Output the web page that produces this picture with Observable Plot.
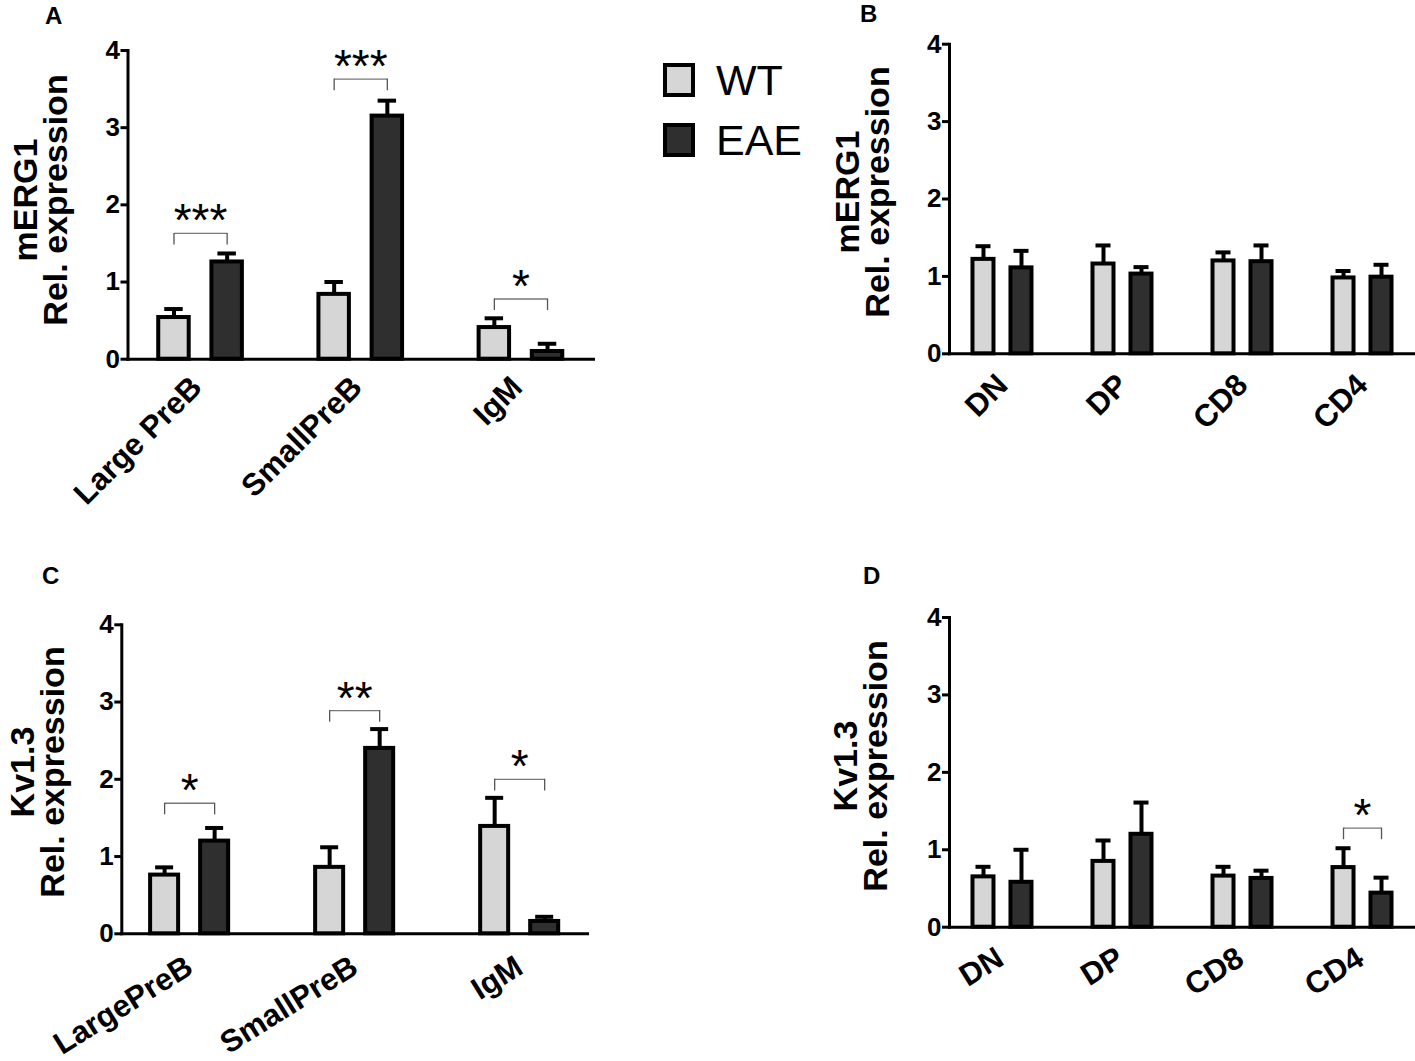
<!DOCTYPE html>
<html><head><meta charset="utf-8">
<script src="https://cdn.jsdelivr.net/npm/d3@7"></script>
<script src="https://cdn.jsdelivr.net/npm/@observablehq/plot@0.6"></script>
<style>
html,body{margin:0;padding:0;background:#fff;}
#page{position:relative;width:1415px;height:1061px;overflow:hidden;font-family:"Liberation Sans",Arial,sans-serif;color:#000;}
.panel{position:absolute;}
.letter{position:absolute;font-weight:bold;font-size:24px;line-height:24px;}
.ytitle{position:absolute;width:340px;font-weight:bold;font-size:34px;line-height:30px;text-align:center;transform:translate(-50%,-50%) rotate(-90deg);white-space:pre;}
.lg-box{position:absolute;width:32px;height:34px;border:4px solid #000;box-sizing:border-box;}
.lg-text{position:absolute;font-size:43px;line-height:43px;}
</style></head>
<body><div id="page"></div>
<script>
// ---------- data ----------
const groups = ["WT", "EAE"];
const yTicks = [0, 1, 2, 3, 4];

const catsA = ["Large PreB", "SmallPreB", "IgM"];
const wtA = [0.54, 0.84, 0.41];
const wtErrA = [0.11, 0.16, 0.12];
const eaeA = [1.26, 3.15, 0.10];
const eaeErrA = [0.11, 0.20, 0.10];
const sigCatsA = ["Large PreB", "SmallPreB", "IgM"];
const sigHeightsA = [1.63, 3.63, 0.78];
const sigLabelsA = ["***", "***", "*"];

const catsB = ["DN", "DP", "CD8", "CD4"];
const wtB = [1.22, 1.16, 1.20, 0.98];
const wtErrB = [0.17, 0.24, 0.11, 0.09];
const eaeB = [1.11, 1.03, 1.19, 0.99];
const eaeErrB = [0.22, 0.09, 0.21, 0.16];

const catsC = ["LargePreB", "SmallPreB", "IgM"];
const wtC = [0.76, 0.86, 1.39];
const wtErrC = [0.10, 0.26, 0.37];
const eaeC = [1.20, 2.40, 0.16];
const eaeErrC = [0.17, 0.25, 0.06];
const sigCatsC = ["LargePreB", "SmallPreB", "IgM"];
const sigHeightsC = [1.69, 2.89, 2.00];
const sigLabelsC = ["*", "**", "*"];

const catsD = ["DN", "DP", "CD8", "CD4"];
const wtD = [0.65, 0.85, 0.66, 0.77];
const wtErrD = [0.13, 0.27, 0.12, 0.25];
const eaeD = [0.58, 1.20, 0.63, 0.44];
const eaeErrD = [0.42, 0.41, 0.10, 0.20];
const sigCatsD = ["CD4"];
const sigHeightsD = [1.28];
const sigLabelsD = ["*"];

// ---------- drawing ----------
const FONT = "'Liberation Sans', Arial, sans-serif";
const page = document.getElementById("page");
const DROP = 0.15;

function panel(cfg, L) {
  const {cats, wt, wtErr, eae, eaeErr, sigCats = [], sigHeights = [], sigLabels = []} = cfg;
  const rows = cats.flatMap((c, i) => [
    {cat: c, group: "WT", value: wt[i], err: wtErr[i]},
    {cat: c, group: "EAE", value: eae[i], err: eaeErr[i]}
  ]);
  const sig = sigCats.map((c, i) => ({cat: c, h: sigHeights[i], label: sigLabels[i]}));
  const sigEnds = sig.flatMap(s => groups.map(g => ({...s, group: g})));
  const svg = Plot.plot({
    width: L.width, height: L.height,
    marginLeft: L.ml, marginRight: L.mr, marginTop: L.mt, marginBottom: L.mb,
    style: {fontFamily: FONT, background: "transparent", color: "#000", overflow: "visible"},
    fx: {domain: cats, paddingInner: L.fxInner, paddingOuter: 0, round: false, label: null},
    x: {domain: groups, paddingInner: L.xInner, paddingOuter: L.xOuter, round: false, axis: null},
    y: {domain: [0, 4]},
    color: {domain: groups, range: ["#d6d6d6", "#2f2f2f"]},
    marks: [
      Plot.barY(rows, {fx: "cat", x: "group", y: "value", fill: "group", stroke: "#000", strokeWidth: 4}),
      Plot.ruleX(rows, {fx: "cat", x: "group", y1: "value", y2: d => d.value + d.err, stroke: "#000", strokeWidth: 4}),
      Plot.tickY(rows, {fx: "cat", x: "group", y: d => d.value + d.err, stroke: "#000", strokeWidth: 4, inset: L.capInset}),
      Plot.frame({anchor: "bottom", stroke: "#000", strokeWidth: 3, facet: "super"}),
      Plot.frame({anchor: "left", stroke: "#000", strokeWidth: 3, facet: "super"}),
      Plot.link(sig, {fx: "cat", x1: () => "WT", x2: () => "EAE", y1: "h", y2: "h", stroke: "#777", strokeWidth: 1.3}),
      Plot.ruleX(sigEnds, {fx: "cat", x: "group", y1: "h", y2: d => d.h - DROP, stroke: "#555", strokeWidth: 1.3}),
      Plot.text(sig, {fx: "cat", y: "h", text: "label", fontSize: 46, fontWeight: "normal", lineAnchor: "bottom", dy: 3, fill: "#000"}),
      Plot.axisY(yTicks, {tickSize: 7, tickPadding: 1, strokeWidth: 3, fontSize: 26, fontWeight: "bold", label: null, tickFormat: d => String(d)}),
      Plot.axisFx({anchor: "bottom", tickRotate: L.rot, tickSize: 0, tickPadding: L.labelPad, dx: L.labelDx, fontSize: 31, fontWeight: "bold", label: null})
    ]
  });
  const holder = document.createElement("div");
  holder.className = "panel";
  holder.style.left = L.left + "px";
  holder.style.top = L.top + "px";
  holder.appendChild(svg);
  page.appendChild(holder);
}

panel({cats: catsA, wt: wtA, wtErr: wtErrA, eae: eaeA, eaeErr: eaeErrA, sigCats: sigCatsA, sigHeights: sigHeightsA, sigLabels: sigLabelsA},
  {left: 0, top: 0, width: 610, height: 540, ml: 127.5, mr: 17, mt: 50, mb: 181.3, fxInner: 0.094, xInner: 0.427, xOuter: 0.578, capInset: 6, rot: -45, labelPad: 23, labelDx: -4});
panel({cats: catsB, wt: wtB, wtErr: wtErrB, eae: eaeB, eaeErr: eaeErrB},
  {left: 820, top: 0, width: 595, height: 540, ml: 129, mr: 0, mt: 43.7, mb: 186.7, fxInner: 0.117, xInner: 0.447, xOuter: 0.618, capInset: 3, rot: -45, labelPad: 26, labelDx: 0});
panel({cats: catsC, wt: wtC, wtErr: wtErrC, eae: eaeC, eaeErr: eaeErrC, sigCats: sigCatsC, sigHeights: sigHeightsC, sigLabels: sigLabelsC},
  {left: 0, top: 570, width: 610, height: 491, ml: 121.3, mr: 23, mt: 54.3, mb: 127.7, fxInner: 0.178, xInner: 0.44, xOuter: 0.576, capInset: 5, rot: -32, labelPad: 30, labelDx: 0});
panel({cats: catsD, wt: wtD, wtErr: wtErrD, eae: eaeD, eaeErr: eaeErrD, sigCats: sigCatsD, sigHeights: sigHeightsD, sigLabels: sigLabelsD},
  {left: 820, top: 570, width: 595, height: 491, ml: 129, mr: 0, mt: 47, mb: 134.3, fxInner: 0.117, xInner: 0.447, xOuter: 0.618, capInset: 3, rot: -32, labelPad: 28, labelDx: -2});

// ---------- text decorations ----------
function addDiv(cls, text, styles) {
  const d = document.createElement("div");
  d.className = cls;
  d.textContent = text;
  Object.assign(d.style, styles);
  page.appendChild(d);
  return d;
}
addDiv("letter", "A", {left: "45px", top: "4px"});
addDiv("letter", "B", {left: "860px", top: "2px"});
addDiv("letter", "C", {left: "42px", top: "564px"});
addDiv("letter", "D", {left: "863px", top: "564px"});

addDiv("ytitle", "mERG1\nRel. expression", {left: "40px", top: "200px"});
addDiv("ytitle", "mERG1\nRel. expression", {left: "862px", top: "192px"});
addDiv("ytitle", "Kv1.3\nRel. expression", {left: "37px", top: "772px"});
addDiv("ytitle", "Kv1.3\nRel. expression", {left: "860px", top: "766px"});

const legendColors = ["#d6d6d6", "#2f2f2f"];
const legendTops = [63, 123];
groups.forEach((g, i) => {
  addDiv("lg-box", "", {left: "663px", top: legendTops[i] + "px", background: legendColors[i]});
  addDiv("lg-text", g, {left: "716px", top: (legendTops[i] - 4.5) + "px"});
});
</script>
</body></html>
